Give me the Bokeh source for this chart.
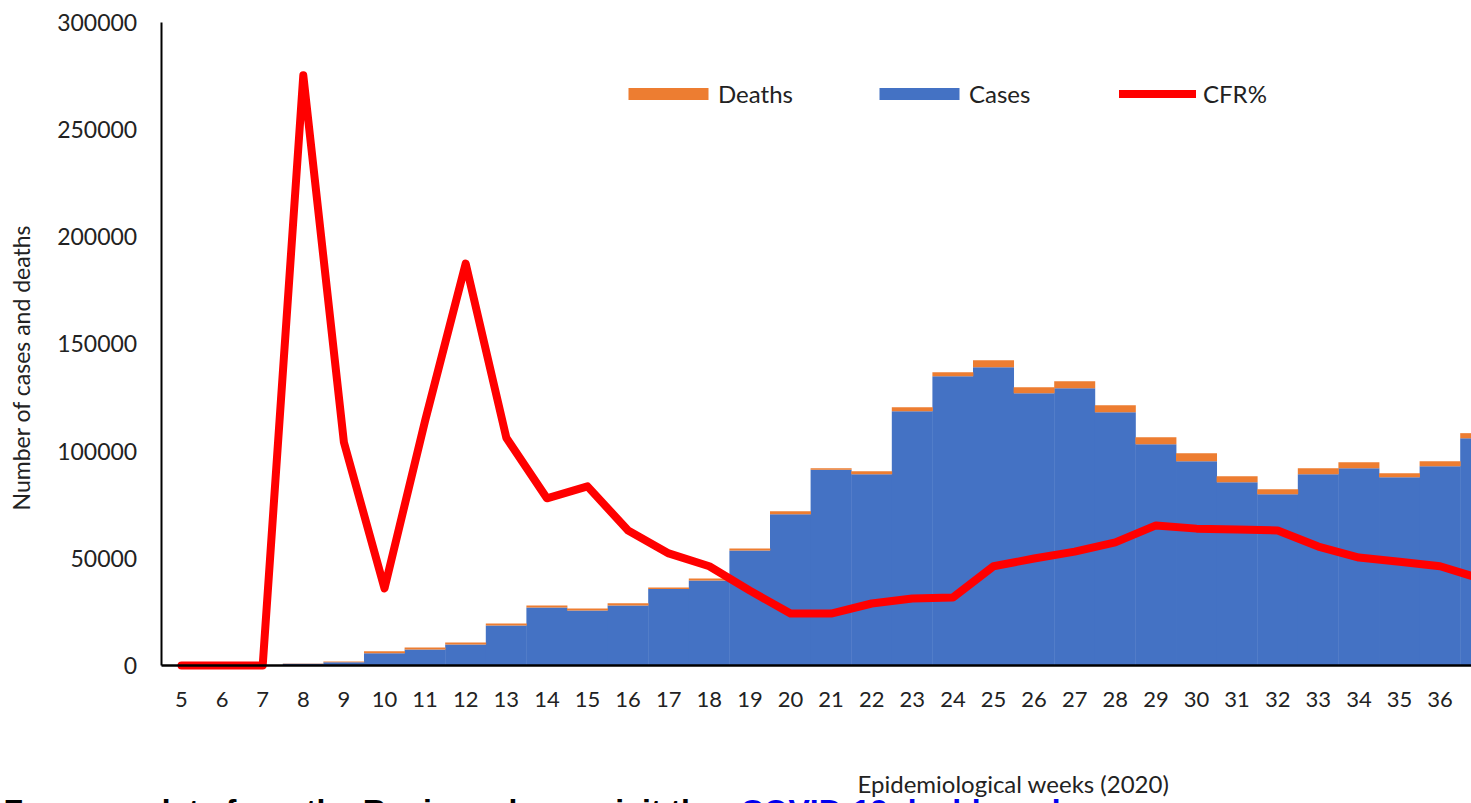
import math
from bokeh.plotting import figure
from bokeh.models import Range1d, FixedTicker, Legend, LegendItem, Label, NumeralTickFormatter
from bokeh.embed import file_html
from bokeh.resources import INLINE

weeks = list(range(5, 38))
cases = [150, 80, 200, 800, 1500, 5700, 7500, 9800, 18700, 27100, 25700, 28000,
         35700, 39700, 53700, 70600, 91300, 89200, 118600, 135000, 139200, 127000,
         129400, 118200, 103200, 95300, 85500, 79900, 89200, 92000, 87800, 93000, 106000]
deaths = [0, 0, 0, 150, 350, 900, 900, 900, 900, 900, 900, 1000,
          700, 900, 900, 1400, 700, 1400, 1900, 1800, 3200, 2800,
          3200, 3200, 3300, 3700, 2800, 2300, 2800, 2800, 1900, 2300, 2400]
cfr = [0, 0, 0, 12.85, 4.86, 1.68, 5.33, 8.75, 4.96, 3.64, 3.90, 2.94,
       2.44, 2.16, 1.63, 1.13, 1.13, 1.35, 1.46, 1.48, 2.16, 2.33,
       2.48, 2.68, 3.05, 2.98, 2.96, 2.94, 2.59, 2.35, 2.26, 2.16, 1.89]
y_ticks = [0, 50000, 100000, 150000, 200000, 250000, 300000]

totals = [c + d for c, d in zip(cases, deaths)]

FONT = "Lato"
TXT = "#222222"

# frame covers the whole canvas; axes are pinned at the data origin
X0, X1 = 0.542, 36.773
Y0, Y1 = -64386, 310264
p = figure(width=1471, height=803, output_backend="svg", toolbar_location=None,
           x_range=Range1d(X0, X1), y_range=Range1d(Y0, Y1),
           min_border_left=0, min_border_right=0, min_border_top=0,
           min_border_bottom=0)
p.extra_y_ranges = {"cfr": Range1d(-3.0047, 14.479)}
p.outline_line_color = None
p.xgrid.visible = False
p.ygrid.visible = False
p.background_fill_color = "white"
p.border_fill_color = "white"

blue = p.vbar(x=weeks, top=cases, bottom=0, width=1.01, fill_color="#4472C4", line_color=None)
orange = p.vbar(x=weeks, top=totals, bottom=cases, width=1.01, fill_color="#ED7D31", line_color=None)
red = p.line(x=weeks, y=cfr, y_range_name="cfr", line_color="#FF0000", line_width=8,
             line_join="round", line_cap="round")

xa = p.xaxis[0]
xa.fixed_location = 0
xa.bounds = (4.5, X1)
xa.ticker = FixedTicker(ticks=weeks)
xa.axis_line_color = "black"
xa.axis_line_width = 2.5
xa.major_tick_line_color = None
xa.minor_tick_line_color = None
xa.major_tick_out = 0
xa.major_tick_in = 0
xa.major_label_standoff = 27
xa.major_label_text_font = FONT
xa.major_label_text_font_size = "22px"
xa.major_label_text_color = TXT

ya = p.yaxis[0]
ya.fixed_location = 4.5
ya.bounds = (0, 300000)
ya.ticker = FixedTicker(ticks=y_ticks)
ya.formatter = NumeralTickFormatter(format="0")
ya.axis_line_color = "black"
ya.axis_line_width = 2
ya.major_tick_line_color = None
ya.minor_tick_line_color = None
ya.major_tick_out = 0
ya.major_tick_in = 0
ya.major_label_standoff = 24
ya.major_label_text_font = FONT
ya.major_label_text_font_size = "23px"
ya.major_label_text_color = TXT

p.add_layout(Label(x=20, y=436, x_units="screen", y_units="screen",
                   text="Number of cases and deaths", angle=math.pi / 2,
                   text_font=FONT, text_font_size="23px", text_color=TXT,
                   text_align="center", text_baseline="middle"))

legend_style = dict(orientation="horizontal", padding=0, margin=0,
                    border_line_color=None, background_fill_alpha=0,
                    label_text_font=FONT, label_text_font_size="24px",
                    label_text_color=TXT)
legend1 = Legend(items=[LegendItem(label="Deaths", renderers=[orange]),
                        LegendItem(label="Cases", renderers=[blue])],
                 location=(618, 695), glyph_width=100, glyph_height=15,
                 label_standoff=0, spacing=76, **legend_style)
legend2 = Legend(items=[LegendItem(label="CFR%", renderers=[red])],
                 location=(1119, 695), glyph_width=77, glyph_height=15,
                 label_standoff=7, spacing=0, **legend_style)
p.add_layout(legend1, "center")
p.add_layout(legend2, "center")

p.add_layout(Label(x=857, y=20, x_units="screen", y_units="screen",
                   text="Epidemiological weeks (2020)", text_font=FONT,
                   text_font_size="24px", text_color=TXT, text_baseline="alphabetic"))
p.add_layout(Label(x=3, y=-7, x_units="screen", y_units="screen",
                   text="For more data from the Region, please visit the ",
                   text_font="Liberation Sans", text_font_style="bold",
                   text_font_size="32px", text_color="black", text_baseline="alphabetic"))
p.add_layout(Label(x=740, y=-7, x_units="screen", y_units="screen",
                   text="COVID-19 dashboard",
                   text_font="Liberation Sans", text_font_style="bold",
                   text_font_size="32px", text_color="#0000EE", text_baseline="alphabetic"))

open("out.html", "w").write(file_html(p, INLINE))
